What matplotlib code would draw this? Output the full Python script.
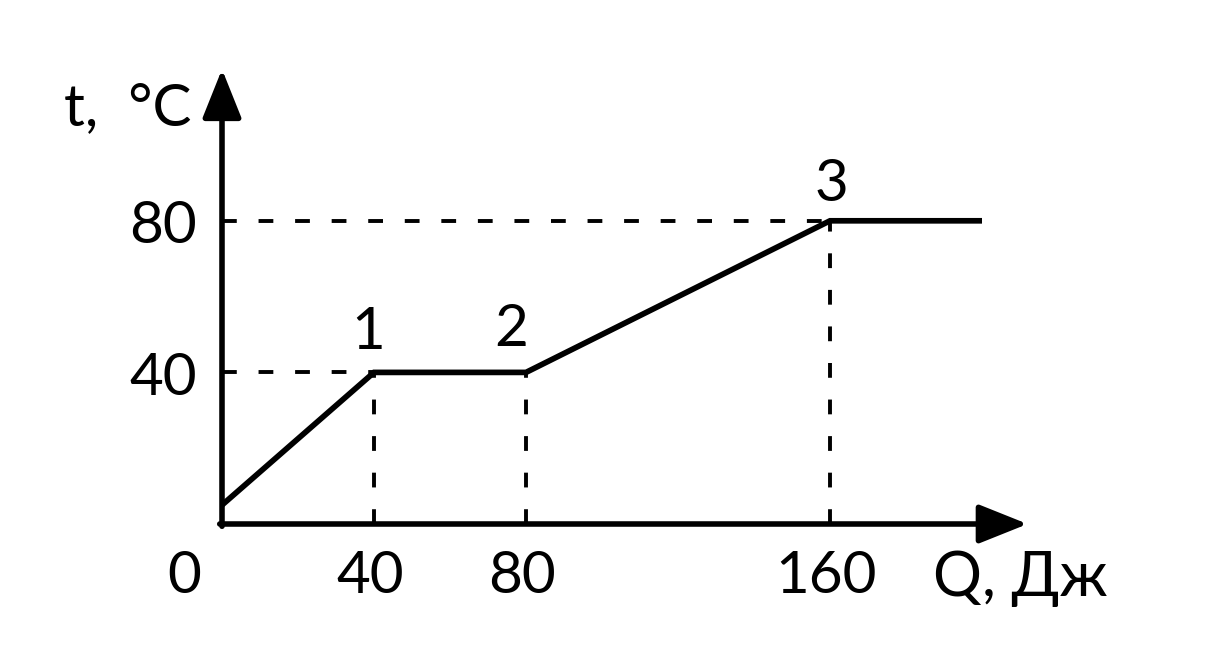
import matplotlib.pyplot as plt

# данные графика t(Q)
Q = [0, 40, 80, 160, 200]
t = [5, 40, 40, 80, 80]
point_labels = ['1', '2', '3']   # точки с индексами 1, 2, 3
x_ticks = [40, 80, 160]
y_ticks = [40, 80]

plt.rcParams['font.family'] = ['Lato', 'DejaVu Sans']

fig = plt.figure(figsize=(12.2, 6.49), dpi=100)
ax = fig.add_axes([0, 0, 1, 1])
ax.set_xlim(-222 / 3.8, 998 / 3.8)
ax.set_ylim(-125 / 3.79, 524 / 3.79)
ax.axis('off')

x_tip = 212
y_tip = 120

# оси со стрелками
arrow = dict(arrowstyle='-|>,head_length=1.5,head_width=0.6', mutation_scale=20,
             lw=4, color='black', shrinkA=0, shrinkB=0, joinstyle='round')
ax.annotate('', xy=(x_tip, 0), xytext=(-0.6, 0), arrowprops=arrow)
ax.annotate('', xy=(0, y_tip), xytext=(0, -0.6), arrowprops=arrow)

# пунктир
dash = dict(color='black', lw=2.8, dashes=(3.8, 5.6))
for yv in y_ticks:
    xv = Q[t.index(yv)]
    ax.plot([0, xv], [yv, yv], **dash)
for xv in x_ticks:
    ax.plot([xv, xv], [0, t[Q.index(xv)]], **dash)

# сам график
ax.plot(Q, t, color='black', lw=4.1, solid_joinstyle='miter', solid_capstyle='butt')

fs = 42
for yv in y_ticks:
    ax.annotate(str(yv), xy=(0, yv), xytext=(-18, -16), textcoords='offset points',
                ha='right', va='baseline', fontsize=fs)
for xv in x_ticks:
    ax.annotate(str(xv), xy=(xv, 0), xytext=(-3, -50), textcoords='offset points',
                ha='center', va='baseline', fontsize=fs)
ax.annotate('0', xy=(0, 0), xytext=(-27, -50), textcoords='offset points',
            ha='center', va='baseline', fontsize=fs)

# номера точек
offs = [(-4, 17), (-11, 19), (1, 14)]
for i, lab in enumerate(point_labels):
    ax.annotate(lab, xy=(Q[i + 1], t[i + 1]), xytext=offs[i], textcoords='offset points',
                ha='center', va='baseline', fontsize=fs)

# подписи осей
ax.annotate('t,  °C', xy=(0, y_tip), xytext=(-22, -40), textcoords='offset points',
            ha='right', va='baseline', fontsize=fs)
ax.annotate('Q, Дж', xy=(x_tip, 0), xytext=(-68, -52), textcoords='offset points',
            ha='left', va='baseline', fontsize=fs + 2)

plt.savefig('out.png', dpi=100)
